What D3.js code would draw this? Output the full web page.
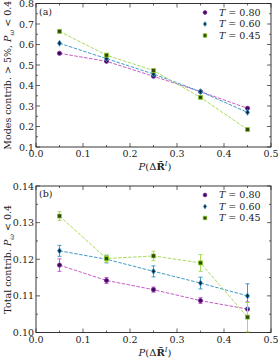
<!DOCTYPE html>
<html>
<head>
<meta charset="utf-8">
<script src="https://cdn.jsdelivr.net/npm/d3@7"></script>
<style>
  body { margin: 0; background: #fff; }
  svg text { font-family: "DejaVu Serif", "Liberation Serif", serif; fill: #222; }
</style>
</head>
<body>
<svg id="chart" width="280" height="363"></svg>
<script>
var xs = [0.05, 0.15, 0.25, 0.35, 0.45];
var temps = ["0.80", "0.60", "0.45"];

// panel (a): modes contributing > 5%
var modesT080 = [0.557, 0.518, 0.445, 0.370, 0.289];
var modesT060 = [0.606, 0.531, 0.456, 0.370, 0.269];
var modesT045 = [0.664, 0.548, 0.473, 0.342, 0.185];

// panel (b): total contribution
var totalT080 = [0.1184, 0.1142, 0.1117, 0.1087, 0.1064];
var totalT060 = [0.1223, 0.1200, 0.1167, 0.1135, 0.1100];
var totalT045 = [0.1318, 0.1202, 0.1209, 0.1190, 0.1042];
var errT080 = [0.0017, 0.0008, 0.0007, 0.0008, 0.0020];
var errT060 = [0.0015, 0.0010, 0.0015, 0.0016, 0.0033];
var errT045 = [0.0012, 0.0010, 0.0013, 0.0023, 0.0040];

var lineColor = ["#c65bc6", "#3f9bc9", "#a8dc5a"];
var markFill = ["#3d0a5c", "#0c2a3e", "#2e4a06"];
var markEdge = ["#7a2a9a", "#3f9bc9", "#8ccc2a"];

var svg = d3.select('#chart');
var left = 36, right = 271;

var x = d3.scaleLinear().domain([0, 0.5]).range([left, right]);

function panel(top, bottom, yDomain, yMajor, yFmt, series, errs, tag, ylabel) {
    var y = d3.scaleLinear().domain(yDomain).range([bottom, top]);
    var g = svg.append('g');

    var yTicks = d3.range(yDomain[0], yDomain[1] + yMajor / 4, yMajor);
    var yMinor = d3.range(yDomain[0] + yMajor / 2, yDomain[1], yMajor);
    var xTicks = d3.range(0, 0.51, 0.1);
    var xMinor = d3.range(0.05, 0.5, 0.1);

    // ticks, inward on all four sides
    var tk = g.append('g').attr('stroke', '#222').attr('stroke-width', 0.7);
    xTicks.forEach(function (t) {
        tk.append('line').attr('x1', x(t)).attr('x2', x(t)).attr('y1', bottom).attr('y2', bottom - 4);
        tk.append('line').attr('x1', x(t)).attr('x2', x(t)).attr('y1', top).attr('y2', top + 4);
    });
    xMinor.forEach(function (t) {
        tk.append('line').attr('x1', x(t)).attr('x2', x(t)).attr('y1', bottom).attr('y2', bottom - 2);
        tk.append('line').attr('x1', x(t)).attr('x2', x(t)).attr('y1', top).attr('y2', top + 2);
    });
    yTicks.forEach(function (t) {
        tk.append('line').attr('x1', left).attr('x2', left + 4).attr('y1', y(t)).attr('y2', y(t));
        tk.append('line').attr('x1', right).attr('x2', right - 4).attr('y1', y(t)).attr('y2', y(t));
    });
    yMinor.forEach(function (t) {
        tk.append('line').attr('x1', left).attr('x2', left + 2).attr('y1', y(t)).attr('y2', y(t));
        tk.append('line').attr('x1', right).attr('x2', right - 2).attr('y1', y(t)).attr('y2', y(t));
    });

    g.append('rect')
        .attr('x', left).attr('y', top)
        .attr('width', right - left).attr('height', bottom - top)
        .attr('fill', 'none').attr('stroke', '#222').attr('stroke-width', 0.9);

    g.selectAll('.xl').data(xTicks).enter().append('text')
        .attr('x', function (d) { return x(d); })
        .attr('y', bottom + 10)
        .attr('text-anchor', 'middle')
        .style('font-size', '9.5px')
        .text(d3.format('.1f'));

    g.selectAll('.yl').data(yTicks).enter().append('text')
        .attr('x', left - 2)
        .attr('y', function (d) { return y(d) + 3.5; })
        .attr('text-anchor', 'end')
        .style('font-size', '9.5px')
        .text(d3.format(yFmt));

    // x label P(ΔR̃^I)
    var xl = g.append('text')
        .attr('x', 155).attr('y', bottom + 23)
        .attr('text-anchor', 'middle')
        .style('font-size', '10px');
    xl.append('tspan').style('font-style', 'italic').text('P');
    xl.append('tspan').text('(Δ');
    xl.append('tspan').style('font-weight', 'bold').text('R\u0303');
    xl.append('tspan').attr('dy', -4).style('font-size', '7px').style('font-style', 'italic').text('I');
    xl.append('tspan').attr('dy', 4).text(')');

    // y label
    var yl = g.append('text')
        .attr('transform', 'translate(11,' + ((top + bottom) / 2) + ') rotate(-90)')
        .attr('text-anchor', 'middle')
        .style('font-size', '9.5px');
    yl.append('tspan').text(ylabel);
    yl.append('tspan').style('font-style', 'italic').text('P');
    yl.append('tspan').attr('dy', 2.5).style('font-size', '7px').style('font-style', 'italic').text('ω');
    yl.append('tspan').attr('dy', -2.5).text(' < 0.4');

    g.append('text').attr('x', left + 3).attr('y', top + 11)
        .style('font-size', '9.5px').text(tag);

    var line = d3.line()
        .x(function (d, i) { return x(xs[i]); })
        .y(function (d) { return y(d); });

    series.forEach(function (s, k) {
        var sg = g.append('g');
        sg.append('path').datum(s)
            .attr('d', line)
            .attr('fill', 'none')
            .attr('stroke', lineColor[k])
            .attr('stroke-width', 1)
            .attr('stroke-dasharray', '3.5,1.5');

        if (errs) {
            s.forEach(function (v, i) {
                var e = errs[k][i], cx = x(xs[i]);
                var lo = Math.max(v - e, yDomain[0]);
                sg.append('line').attr('x1', cx).attr('x2', cx)
                    .attr('y1', y(v + e)).attr('y2', y(lo))
                    .attr('stroke', lineColor[k]).attr('stroke-width', 1);
                [v + e, lo].forEach(function (w) {
                    if (w <= yDomain[0]) return;
                    sg.append('line').attr('x1', cx - 2).attr('x2', cx + 2)
                        .attr('y1', y(w)).attr('y2', y(w))
                        .attr('stroke', lineColor[k]).attr('stroke-width', 1);
                });
            });
        }

        sg.selectAll('.m').data(s).enter().append('path')
            .attr('transform', function (d, i) { return 'translate(' + x(xs[i]) + ',' + y(d) + ')'; })
            .attr('d', marker(k))
            .attr('fill', markFill[k])
            .attr('stroke', markEdge[k])
            .attr('stroke-width', 0.8);
    });

    // legend
    temps.forEach(function (t, k) {
        var ly = top + 12 + k * 11.5;
        g.append('path')
            .attr('transform', 'translate(205,' + (ly - 3) + ')')
            .attr('d', marker(k, 0.8))
            .attr('fill', markFill[k])
            .attr('stroke', markEdge[k])
            .attr('stroke-width', 0.7);
        var lt = g.append('text').attr('x', 219).attr('y', ly).style('font-size', '9.5px');
        lt.append('tspan').style('font-style', 'italic').text('T');
        lt.append('tspan').text(' = ' + t);
    });
}

function marker(k, sc) {
    sc = sc || 1;
    if (k === 0) return d3.symbol().type(d3.symbolCircle).size(14 * sc)();
    if (k === 1) return 'M0,' + (-3 * sc) + 'L' + (2 * sc) + ',0L0,' + (3 * sc) + 'L' + (-2 * sc) + ',0Z';
    return d3.symbol().type(d3.symbolSquare).size(16 * sc)();
}

panel(3.5, 147, [0.1, 0.8], 0.1, '.1f',
    [modesT080, modesT060, modesT045], null, '(a)', 'Modes contrib. > 5%, ');

panel(186, 332.5, [0.10, 0.14], 0.01, '.2f',
    [totalT080, totalT060, totalT045], [errT080, errT060, errT045], '(b)', 'Total contrib. ');
</script>
</body>
</html>
